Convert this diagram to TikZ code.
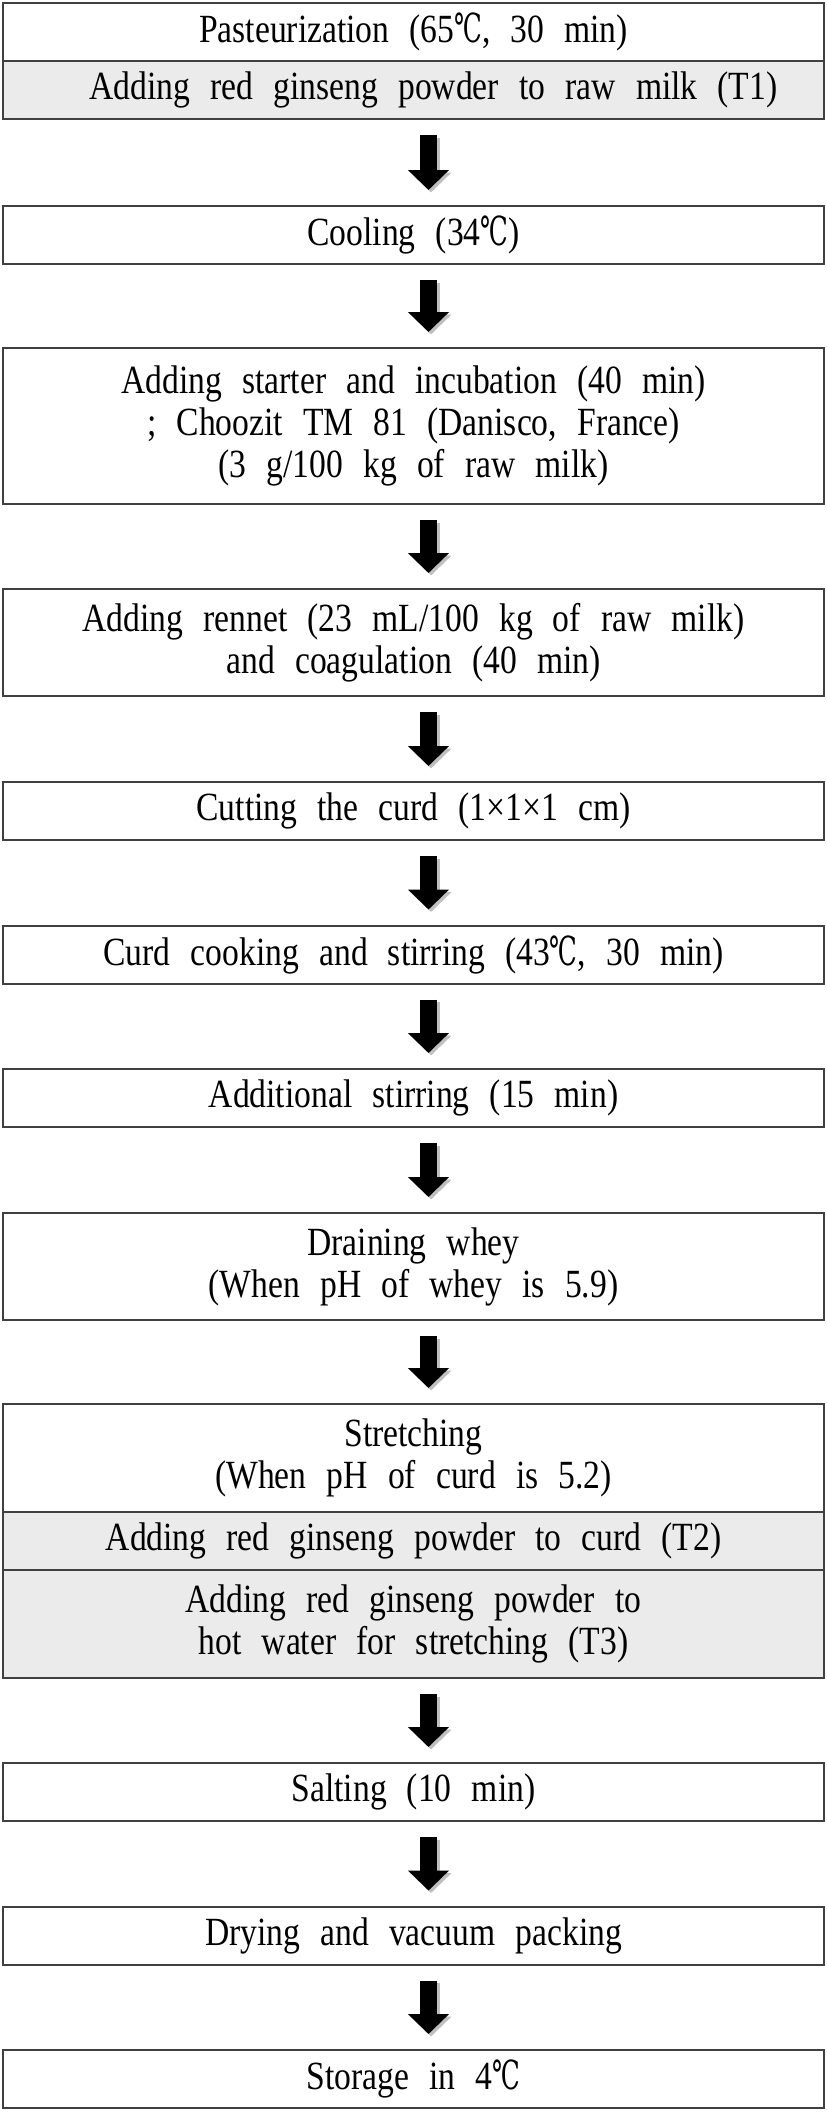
\documentclass[tikz,border=0pt]{standalone}
\usepackage{fontspec}
\setmainfont[FakeStretch=0.84,WordSpace=2.4]{Liberation Serif}
\newfontfamily\degfont[FakeStretch=0.62]{DejaVu Serif}
\newcommand{\dc}{{\degfont ℃}}
\usetikzlibrary{arrows.meta}
\tikzset{
  stepbox/.style={draw=black!75,line width=2pt,minimum width=821pt,align=center,inner sep=0pt,font=\fontsize{40}{42}\selectfont},
  addbox/.style={stepbox,fill=black!8},
  flow/.style={line width=17pt,-{Triangle[width=40pt,length=20pt]}},
  flowshadow/.style={flow,draw=black!25,transform canvas={shift={(2.5pt,-2.5pt)}}}
}
\begin{document}
\begin{tikzpicture}[x=1pt,y=-1pt]
            \useasboundingbox (0,0) rectangle (827,2112);
            \node[stepbox,minimum height=58pt] (past) at (413.5,32) {Pasteurization (65\dc, 30 min)};
            \node[addbox,minimum height=58pt] (t1) at (413.5,90) {\hspace*{40pt}Adding red ginseng powder to raw milk (T1)};
            \node[stepbox,minimum height=58pt] (cool) at (413.5,235) {Cooling (34\dc)};
            \node[stepbox,minimum height=156pt] (start) at (413.5,426) {Adding starter and incubation (40 min)\\; Choozit TM 81 (Danisco, France)\\(3 g/100 kg of raw milk)};
            \node[stepbox,minimum height=107pt] (rennet) at (413.5,642.5) {Adding rennet (23 mL/100 kg of raw milk)\\and coagulation (40 min)};
            \node[stepbox,minimum height=58pt] (cut) at (413.5,811) {Cutting the curd (1×1×1 cm)};
            \node[stepbox,minimum height=58pt] (cook) at (413.5,954.5) {Curd cooking and stirring (43\dc, 30 min)};
            \node[stepbox,minimum height=58pt] (stir) at (413.5,1098) {Additional stirring (15 min)};
            \node[stepbox,minimum height=107pt] (drain) at (413.5,1266.5) {Draining whey\\(When pH of whey is 5.9)};
            \node[stepbox,minimum height=108pt] (stretch) at (413.5,1458) {Stretching\\(When pH of curd is 5.2)};
            \node[addbox,minimum height=58pt] (t2) at (413.5,1541) {Adding red ginseng powder to curd (T2)};
            \node[addbox,minimum height=108pt] (t3) at (413.5,1624) {Adding red ginseng powder to\\hot water for stretching (T3)};
            \node[stepbox,minimum height=58pt] (salt) at (413.5,1792) {Salting (10 min)};
            \node[stepbox,minimum height=58pt] (dry) at (413.5,1935.5) {Drying and vacuum packing};
            \node[stepbox,minimum height=58pt] (store) at (413.5,2079) {Storage in 4\dc};
            % arrows between the steps
            \draw[flowshadow] ([xshift=15pt,yshift=-15pt]t1.south) -- ([xshift=15pt,yshift=15pt]cool.north);
            \draw[flow] ([xshift=15pt,yshift=-15pt]t1.south) -- ([xshift=15pt,yshift=15pt]cool.north);
            \draw[flowshadow] ([xshift=15pt,yshift=-15pt]cool.south) -- ([xshift=15pt,yshift=15pt]start.north);
            \draw[flow] ([xshift=15pt,yshift=-15pt]cool.south) -- ([xshift=15pt,yshift=15pt]start.north);
            \draw[flowshadow] ([xshift=15pt,yshift=-15pt]start.south) -- ([xshift=15pt,yshift=15pt]rennet.north);
            \draw[flow] ([xshift=15pt,yshift=-15pt]start.south) -- ([xshift=15pt,yshift=15pt]rennet.north);
            \draw[flowshadow] ([xshift=15pt,yshift=-15pt]rennet.south) -- ([xshift=15pt,yshift=15pt]cut.north);
            \draw[flow] ([xshift=15pt,yshift=-15pt]rennet.south) -- ([xshift=15pt,yshift=15pt]cut.north);
            \draw[flowshadow] ([xshift=15pt,yshift=-15pt]cut.south) -- ([xshift=15pt,yshift=15pt]cook.north);
            \draw[flow] ([xshift=15pt,yshift=-15pt]cut.south) -- ([xshift=15pt,yshift=15pt]cook.north);
            \draw[flowshadow] ([xshift=15pt,yshift=-15pt]cook.south) -- ([xshift=15pt,yshift=15pt]stir.north);
            \draw[flow] ([xshift=15pt,yshift=-15pt]cook.south) -- ([xshift=15pt,yshift=15pt]stir.north);
            \draw[flowshadow] ([xshift=15pt,yshift=-15pt]stir.south) -- ([xshift=15pt,yshift=15pt]drain.north);
            \draw[flow] ([xshift=15pt,yshift=-15pt]stir.south) -- ([xshift=15pt,yshift=15pt]drain.north);
            \draw[flowshadow] ([xshift=15pt,yshift=-15pt]drain.south) -- ([xshift=15pt,yshift=15pt]stretch.north);
            \draw[flow] ([xshift=15pt,yshift=-15pt]drain.south) -- ([xshift=15pt,yshift=15pt]stretch.north);
            \draw[flowshadow] ([xshift=15pt,yshift=-15pt]t3.south) -- ([xshift=15pt,yshift=15pt]salt.north);
            \draw[flow] ([xshift=15pt,yshift=-15pt]t3.south) -- ([xshift=15pt,yshift=15pt]salt.north);
            \draw[flowshadow] ([xshift=15pt,yshift=-15pt]salt.south) -- ([xshift=15pt,yshift=15pt]dry.north);
            \draw[flow] ([xshift=15pt,yshift=-15pt]salt.south) -- ([xshift=15pt,yshift=15pt]dry.north);
            \draw[flowshadow] ([xshift=15pt,yshift=-15pt]dry.south) -- ([xshift=15pt,yshift=15pt]store.north);
            \draw[flow] ([xshift=15pt,yshift=-15pt]dry.south) -- ([xshift=15pt,yshift=15pt]store.north);
        \end{tikzpicture}
\end{document}
